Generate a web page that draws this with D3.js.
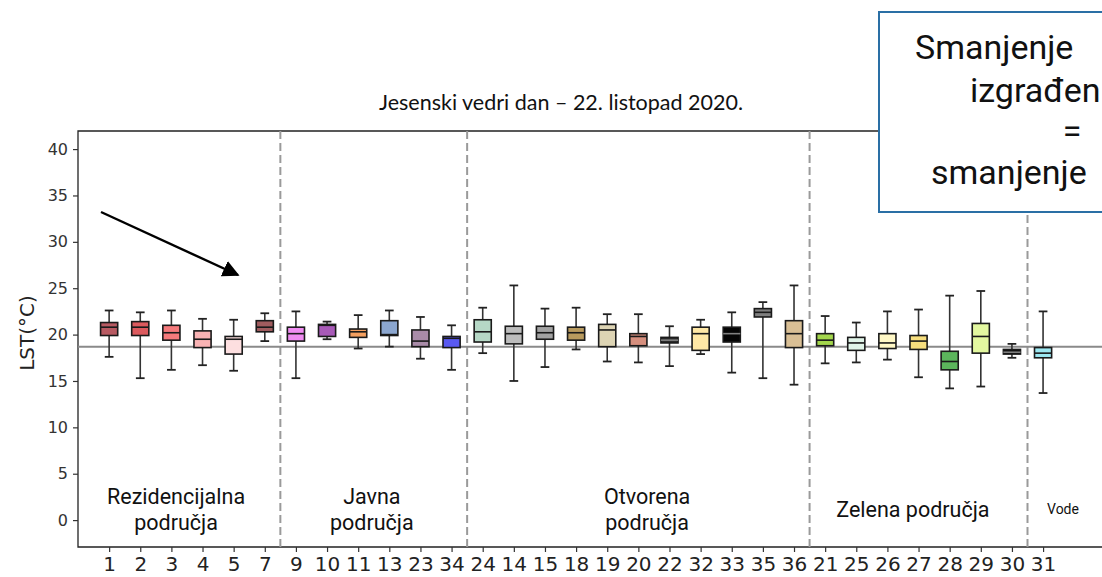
<!DOCTYPE html>
<html>
<head>
<meta charset="utf-8">
<script src="https://cdn.jsdelivr.net/npm/d3@7"></script>
<style>
  html, body { margin: 0; padding: 0; background: #fff; }
  svg { display: block; }
</style>
</head>
<body>
<svg id="chart" width="1102" height="577"></svg>
<script>
// Land-surface temperature per location, grouped by land-use type
const categories = ["1","2","3","4","5","7","9","10","11","13","23","34","24","14","15","18","19","20","22","32","33","35","36","21","25","26","27","28","29","30","31"];
const whiskerLow  = [17.6,15.3,16.2,16.7,16.1,19.3,15.3,19.5,18.5,18.7,17.4,16.2,18.0,15.0,16.5,18.4,17.1,17.0,16.6,17.9,15.9,15.3,14.6,16.9,17.0,17.3,15.4,14.2,14.4,17.5,13.7];
const q1          = [19.9,19.9,19.4,18.6,17.9,20.3,19.3,19.8,19.7,19.9,18.7,18.6,19.2,19.0,19.5,19.4,18.7,18.8,19.1,18.3,19.2,21.9,18.6,18.8,18.3,18.5,18.4,16.2,18.0,17.9,17.5];
const medians     = [20.8,20.8,20.2,19.5,19.5,20.8,20.1,21.0,20.3,20.0,19.3,19.6,20.3,20.1,20.2,20.2,20.5,19.8,19.4,20.1,20.1,22.4,20.1,19.4,19.1,19.1,19.3,17.1,19.8,18.1,18.0];
const q3          = [21.3,21.4,21.0,20.4,19.8,21.5,20.8,21.1,20.6,21.5,20.5,19.8,21.6,20.9,20.9,20.8,21.1,20.1,19.7,20.8,20.8,22.8,21.5,20.1,19.7,20.1,19.9,18.2,21.2,18.4,18.6];
const whiskerHigh = [22.6,22.4,22.6,21.7,21.6,22.3,22.5,21.4,22.1,22.6,21.9,21.0,22.9,25.3,22.8,22.9,22.2,22.2,20.9,21.6,22.4,23.5,25.3,22.0,21.3,22.5,22.7,24.2,24.7,19.0,22.5];
const referenceLST = 18.7;

const boxColors = ["#b85a62","#dc5a5e","#f57a7c","#f9b3b4","#fddfe0","#a05c5e",
  "#f08cf2","#a85ab8","#f4a060","#8ba6cf","#a98ba8","#5a5af2",
  "#b6d8c6","#bcbcbc","#a2a2a2","#b89a5e","#ddd4b4","#d68f7e","#2b2b2b","#ffe8a6","#050505","#7f7f7f","#d9bf95",
  "#a3d64c","#e0f4e8","#fff8c6","#f6de7e","#5cb55c","#e3f8a0","#111111",
  "#9de8f2"];

// last category index of each land-use group (separators are drawn after these)
const groupEnds = [6, 12, 23, 30];
const yTicks = [0, 5, 10, 15, 20, 25, 30, 35, 40];

const svg = d3.select("#chart");
const plotLeft = 78, plotTop = 131, plotBottom = 547, frameRight = 1110;

const x = d3.scaleLinear().domain([0, categories.length + 1]).range([plotLeft, 1074.2]);
const y = d3.scaleLinear().domain([-2.9, 41.95]).range([plotBottom, plotTop]);
const step = x(1) - x(0);
const boxW = step * 0.55, capW = step * 0.28;

// frame (left, top, bottom spines)
svg.append("path")
  .attr("d", `M${frameRight},${plotTop}H${plotLeft}V${plotBottom}H${frameRight}`)
  .attr("fill", "none").attr("stroke", "#222").attr("stroke-width", 1.3);

// y axis
const yAxis = svg.append("g").attr("transform", `translate(${plotLeft},0)`)
  .call(d3.axisLeft(y).tickValues(yTicks).tickSize(5).tickPadding(5));
yAxis.select(".domain").remove();
yAxis.selectAll("line").attr("stroke", "#333").attr("stroke-width", 1.2);
yAxis.selectAll("text").attr("font-family", "DejaVu Sans").attr("font-size", 16).attr("fill", "#333");

// x axis
const xAxis = svg.append("g").attr("transform", `translate(0,${plotBottom})`)
  .call(d3.axisBottom(x).tickValues(d3.range(1, categories.length + 1))
    .tickFormat(i => categories[i - 1]).tickSize(5).tickPadding(5));
xAxis.select(".domain").remove();
xAxis.selectAll("line").attr("stroke", "#333").attr("stroke-width", 1.2);
xAxis.selectAll("text").attr("font-family", "DejaVu Sans").attr("font-size", 20).attr("fill", "#222");

// y label
svg.append("text")
  .attr("transform", `translate(34,333) rotate(-90)`)
  .attr("text-anchor", "middle")
  .attr("font-family", "DejaVu Sans").attr("font-size", 20).attr("fill", "#222")
  .text("LST(°C)");

// title
svg.append("text")
  .attr("x", 561).attr("y", 110).attr("text-anchor", "middle")
  .attr("font-family", "Lato").attr("font-size", 21.5).attr("fill", "#111")
  .text("Jesenski vedri dan – 22. listopad 2020.");

// group separators
svg.append("g").selectAll("line").data(groupEnds).join("line")
  .attr("x1", d => x(d + 0.5)).attr("x2", d => x(d + 0.5))
  .attr("y1", plotTop).attr("y2", plotBottom)
  .attr("stroke", "#9a9a9a").attr("stroke-width", 2).attr("stroke-dasharray", "8,4");

// reference line
svg.append("line")
  .attr("x1", plotLeft).attr("x2", frameRight)
  .attr("y1", y(referenceLST)).attr("y2", y(referenceLST))
  .attr("stroke", "#8a8a8a").attr("stroke-width", 2);

// boxes
const boxes = svg.append("g").selectAll("g").data(categories).join("g")
  .attr("transform", (d, i) => `translate(${x(i + 1)},0)`);

boxes.append("line")
  .attr("y1", (d, i) => y(whiskerHigh[i])).attr("y2", (d, i) => y(q3[i]))
  .attr("stroke", "#333").attr("stroke-width", 1.6);
boxes.append("line")
  .attr("y1", (d, i) => y(q1[i])).attr("y2", (d, i) => y(whiskerLow[i]))
  .attr("stroke", "#333").attr("stroke-width", 1.6);
boxes.append("line")
  .attr("x1", -capW / 2).attr("x2", capW / 2)
  .attr("y1", (d, i) => y(whiskerHigh[i])).attr("y2", (d, i) => y(whiskerHigh[i]))
  .attr("stroke", "#222").attr("stroke-width", 1.8);
boxes.append("line")
  .attr("x1", -capW / 2).attr("x2", capW / 2)
  .attr("y1", (d, i) => y(whiskerLow[i])).attr("y2", (d, i) => y(whiskerLow[i]))
  .attr("stroke", "#222").attr("stroke-width", 1.8);
boxes.append("rect")
  .attr("x", -boxW / 2).attr("width", boxW)
  .attr("y", (d, i) => y(q3[i])).attr("height", (d, i) => y(q1[i]) - y(q3[i]))
  .attr("fill", (d, i) => boxColors[i])
  .attr("stroke", "#1a1a1a").attr("stroke-width", 1.6);
boxes.append("line")
  .attr("x1", -boxW / 2).attr("x2", boxW / 2)
  .attr("y1", (d, i) => y(medians[i])).attr("y2", (d, i) => y(medians[i]))
  .attr("stroke", (d, i) => d3.hsl(boxColors[i]).l < 0.25 ? "#808080" : "#1a1a1a")
  .attr("stroke-width", 1.6);

// group names
const groupText = [
  { lines: ["Rezidencijalna", "područja"], at: 3.15, size: 21.5 },
  { lines: ["Javna", "područja"], at: 9.44, size: 21.5 },
  { lines: ["Otvorena", "područja"], at: 18.28, size: 21.5 },
  { lines: ["Zelena područja"], at: 26.82, size: 21.5 },
  { lines: ["Vode"], at: 31.64, size: 14 }
];
groupText.forEach(g => {
  const t = svg.append("text")
    .attr("text-anchor", "middle")
    .attr("font-family", "Roboto").attr("font-size", g.size).attr("fill", "#111");
  if (g.lines.length === 2) {
    t.append("tspan").attr("x", x(g.at)).attr("y", 504).text(g.lines[0]);
    t.append("tspan").attr("x", x(g.at)).attr("y", 530).text(g.lines[1]);
  } else {
    t.attr("x", x(g.at)).attr("y", g.size > 15 ? 517 : 514).text(g.lines[0]);
  }
});

// arrow pointing at the residential boxes
const defs = svg.append("defs");
defs.append("marker").attr("id", "head")
  .attr("viewBox", "0 0 10 10").attr("refX", 9).attr("refY", 5)
  .attr("markerWidth", 7).attr("markerHeight", 7).attr("orient", "auto")
  .attr("markerUnits", "strokeWidth")
  .append("path").attr("d", "M0,0L10,5L0,10Z").attr("fill", "#000");
svg.append("line")
  .attr("x1", 101).attr("y1", 212).attr("x2", 238).attr("y2", 275)
  .attr("stroke", "#000").attr("stroke-width", 2.4).attr("marker-end", "url(#head)");

// callout box
svg.append("rect")
  .attr("x", 879).attr("y", 12).attr("width", 260).attr("height", 200)
  .attr("fill", "#fff").attr("stroke", "#2a6fa5").attr("stroke-width", 2);
const callout = svg.append("g").attr("font-family", "Roboto").attr("font-size", 34).attr("fill", "#111");
callout.append("text").attr("x", 915).attr("y", 59).text("Smanjenje");
callout.append("text").attr("x", 970).attr("y", 102).text("izgrađen");
callout.append("text").attr("x", 1072).attr("y", 143).attr("text-anchor", "middle").text("=");
callout.append("text").attr("x", 931).attr("y", 184).text("smanjenje");
</script>
</body>
</html>
